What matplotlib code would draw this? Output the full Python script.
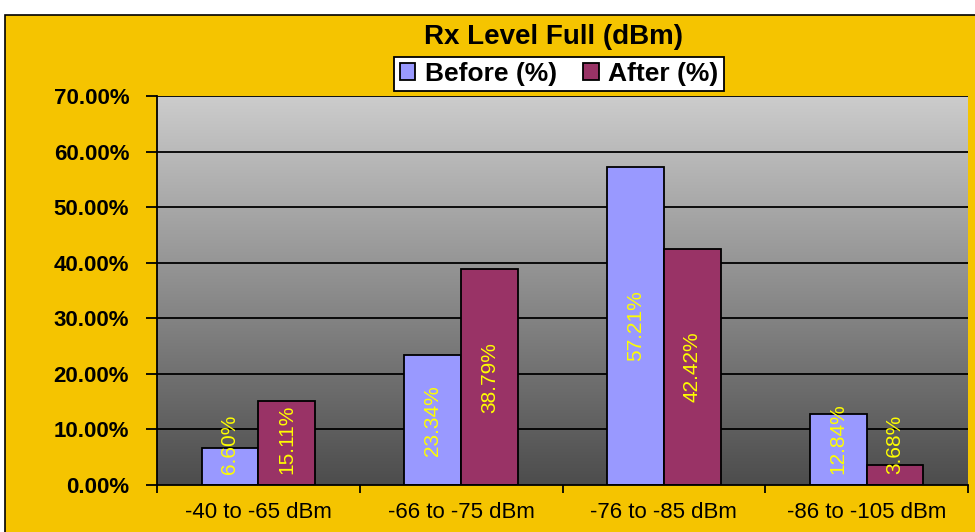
import numpy as np
import matplotlib
matplotlib.use("Agg")
import matplotlib.pyplot as plt
from matplotlib.patches import Rectangle

# data
categories = ["-40 to -65 dBm", "-66 to -75 dBm", "-76 to -85 dBm", "-86 to -105 dBm"]
before = [6.60, 23.34, 57.21, 12.84]
after = [15.11, 38.79, 42.42, 3.68]
series_names = ["Before (%)", "After (%)"]
yticks = [0, 10, 20, 30, 40, 50, 60, 70]

plt.rcParams["font.family"] = ["Liberation Sans", "DejaVu Sans"]

fig = plt.figure(figsize=(9.75, 5.32), dpi=100)
fig.patch.set_facecolor("white")

# yellow chart area with dark border
bg = Rectangle((5 / 975, -0.01), 1.0, 1 - 15 / 532 + 0.01,
               transform=fig.transFigure, facecolor="#f5c400",
               edgecolor="black", lw=1.2, zorder=-10)
fig.add_artist(bg)

ax = fig.add_axes([157 / 975, 1 - 485 / 532, (968 - 157) / 975, (485 - 96) / 532])
ax.set_xlim(0, 4)
ax.set_ylim(0, 70)
ax.patch.set_alpha(0)

# gray gradient plot area
grad = np.linspace(0.80, 0.30, 256).reshape(-1, 1)
ax.imshow(np.dstack([grad, grad, grad]), extent=[0, 4, 0, 70], aspect="auto",
          zorder=0, interpolation="bilinear")

for y in yticks[1:]:
    ax.axhline(y, color="black", lw=1.3, zorder=1)

x = np.arange(len(categories)) + 0.5
w = 0.28
b1 = ax.bar(x - w / 2, before, w, color="#9999ff", edgecolor="black", lw=1.3,
            label=series_names[0], zorder=2)
b2 = ax.bar(x + w / 2, after, w, color="#993366", edgecolor="black", lw=1.3,
            label=series_names[1], zorder=2)

# value labels, rotated, inside bars
for xs, vals in ((x - w / 2, before), (x + w / 2, after)):
    for xi, v in zip(xs, vals):
        txt = f"{v:.2f}%"
        if v / 2 - 6.0 < 2.0:
            ax.text(xi, 2.0, txt, rotation=90, ha="center", va="bottom",
                    color="#ffff00", fontsize=15, zorder=3)
        else:
            ax.text(xi, v / 2, txt, rotation=90, ha="center", va="center",
                    color="#ffff00", fontsize=15, zorder=3)

ax.set_yticks(yticks)
ax.set_yticklabels([f"{t:.2f}%" for t in yticks], fontsize=16, fontweight="bold")
ax.set_xticks(range(5))
ax.set_xticklabels([])
ax.set_xticks(x, minor=True)
ax.set_xticklabels(categories, minor=True, fontsize=16)
ax.tick_params(axis="x", which="minor", length=0, pad=12)
ax.tick_params(axis="x", which="major", direction="out", length=6, width=1.3)
ax.tick_params(axis="y", direction="out", length=8, width=1.3, pad=12)
for s in ("top", "right"):
    ax.spines[s].set_visible(False)
for s in ("left", "bottom"):
    ax.spines[s].set_linewidth(1.3)

fig.text(553 / 975, 1 - 37 / 532, "Rx Level Full (dBm)", ha="center", va="center",
         fontsize=20, fontweight="bold")
leg = fig.legend(handles=[b1, b2], loc="center", bbox_to_anchor=(559 / 975, 1 - 74 / 532),
                 ncol=2, frameon=True, fancybox=False, edgecolor="black",
                 facecolor="white", framealpha=1,
                 prop={"size": 19, "weight": "bold"},
                 handlelength=0.6, handleheight=0.6, handletextpad=0.35,
                 columnspacing=1.0, borderpad=0.2, borderaxespad=0)
leg.get_frame().set_linewidth(1.3)

fig.savefig("out.png", dpi=100)
